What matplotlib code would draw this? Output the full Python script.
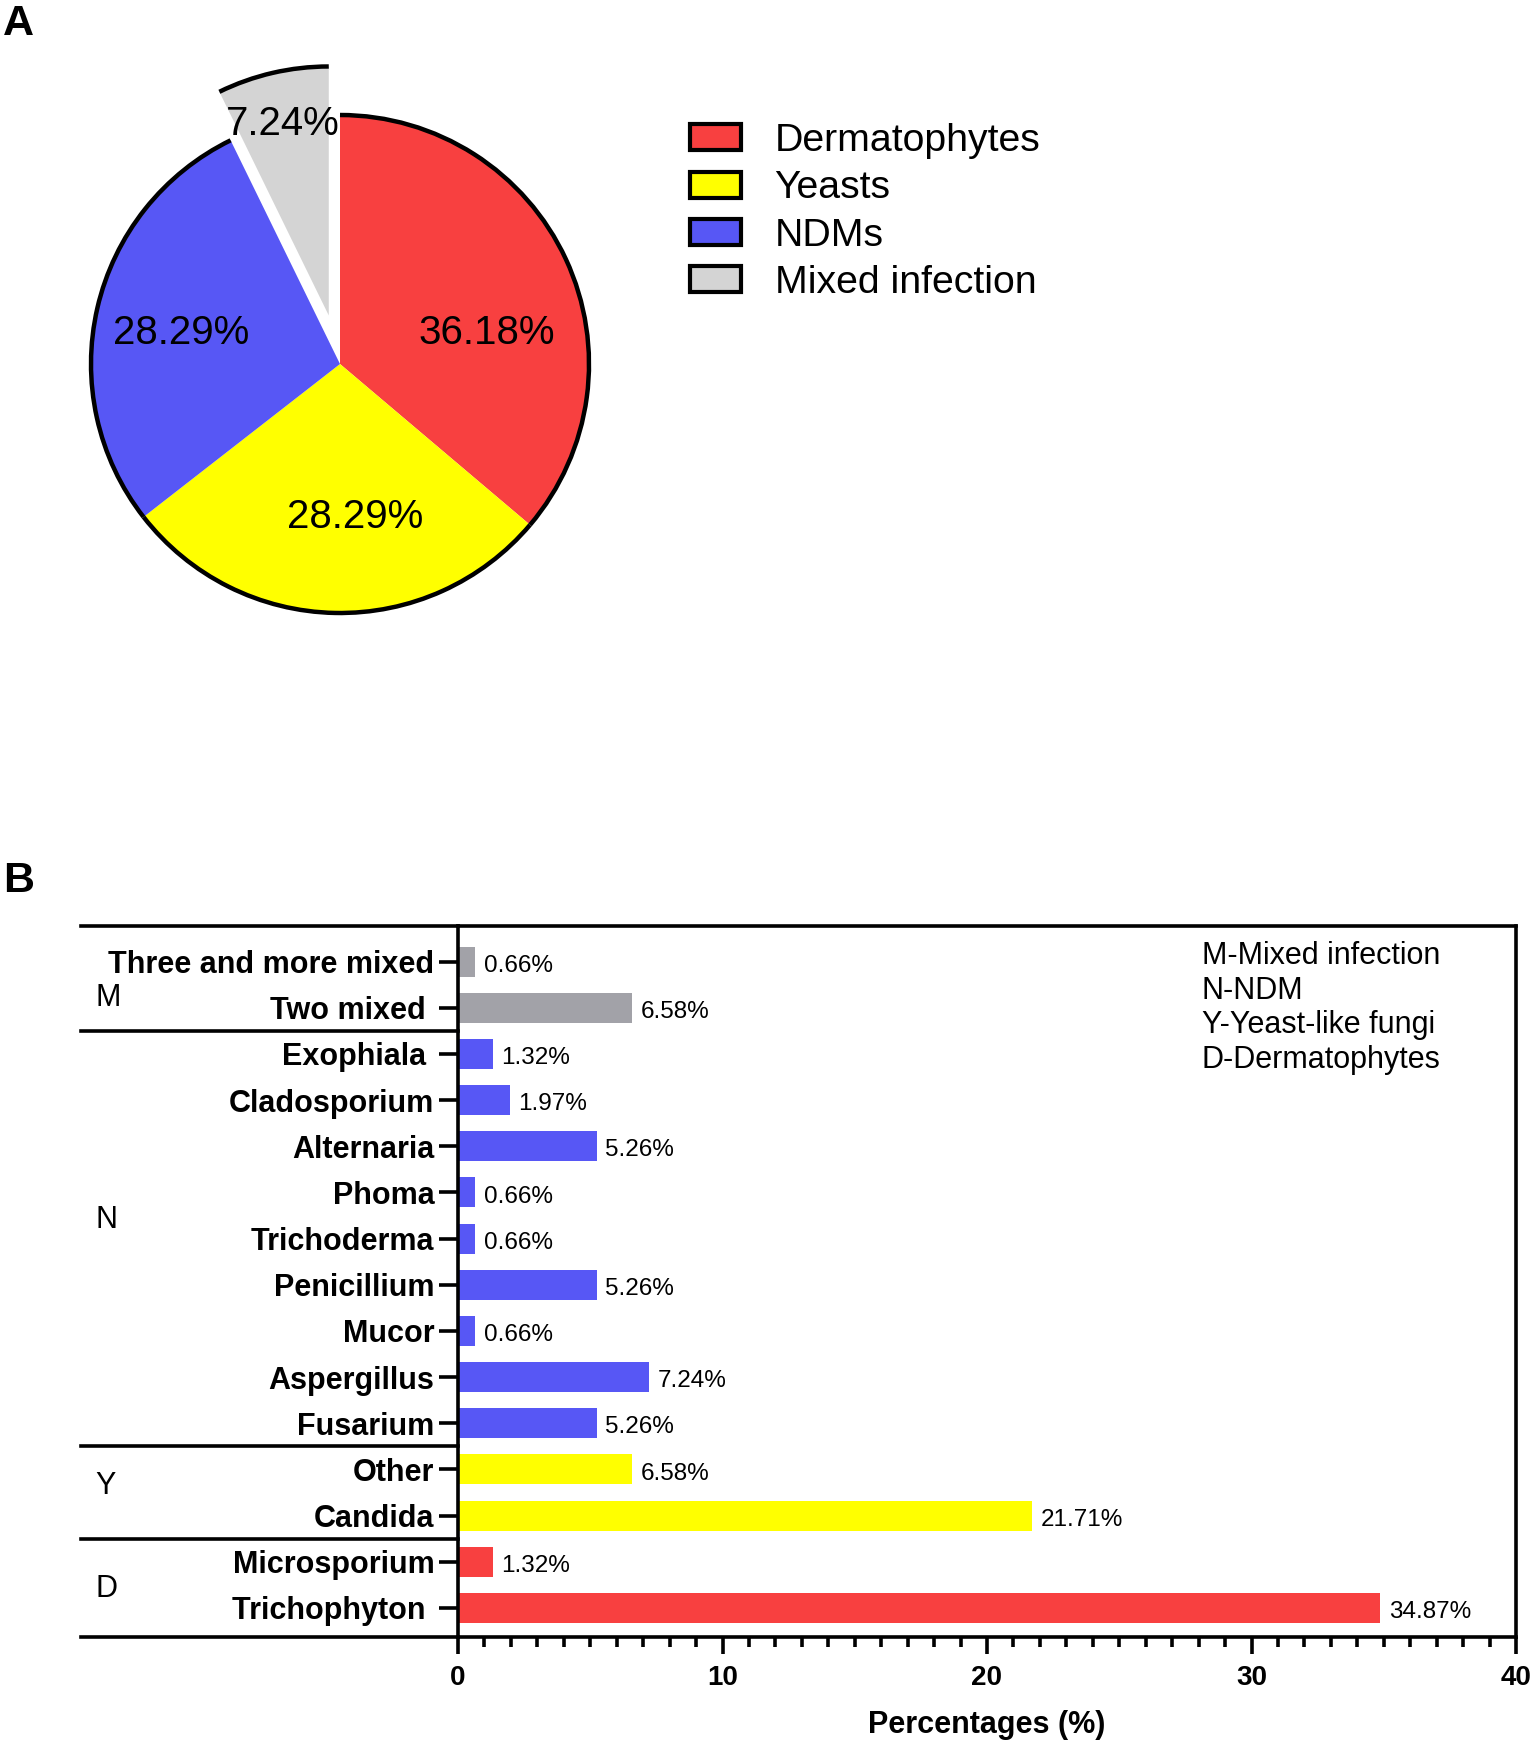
import matplotlib
matplotlib.use("Agg")
import matplotlib.pyplot as plt
import matplotlib.transforms as mtransforms
from matplotlib.patches import Arc, Patch

plt.rcParams['font.family'] = ['Liberation Sans', 'DejaVu Sans']

# ── данни: панел A ──
pie_labels = ["Dermatophytes", "Yeasts", "NDMs", "Mixed infection"]
pie_values = [36.18, 28.29, 28.29, 7.24]
pie_colors = ["#F84040", "#FFFF00", "#5757F5", "#D4D4D4"]
pie_explode = [0, 0, 0, 0.2]

# ── данни: панел B ──
genera = ["Three and more mixed", "Two mixed ", "Exophiala ", "Cladosporium",
          "Alternaria", "Phoma", "Trichoderma", "Penicillium", "Mucor",
          "Aspergillus", "Fusarium", "Other", "Candida", "Microsporium",
          "Trichophyton "]
genus_pct = [0.66, 6.58, 1.32, 1.97, 5.26, 0.66, 0.66, 5.26, 0.66,
             7.24, 5.26, 6.58, 21.71, 1.32, 34.87]
genus_group = ["M", "M", "N", "N", "N", "N", "N", "N", "N", "N", "N",
               "Y", "Y", "D", "D"]
group_colors = {"M": "#A2A2A8", "N": "#5757F5", "Y": "#FFFF00", "D": "#F84040"}
group_notes = ["M-Mixed infection", "N-NDM", "Y-Yeast-like fungi", "D-Dermatophytes"]

W, H = 1535, 1743
LW = 2.6
fig = plt.figure(figsize=(W / 100, H / 100), dpi=100)


def px_rect(left, top, right, bottom):
    return [left / W, 1 - bottom / H, (right - left) / W, (bottom - top) / H]


# ──────────────── A: pie ────────────────
L = 1.3
cx, cy, r_px = 340, 364, 249
half = r_px * L
ax1 = fig.add_axes(px_rect(cx - half, cy - half, cx + half, cy + half))
wedges, texts, autotexts = ax1.pie(
    pie_values, colors=pie_colors, explode=pie_explode, startangle=90,
    counterclock=False, autopct="%.2f%%", pctdistance=0.6,
    wedgeprops={"linewidth": 0}, textprops={"fontsize": 29},
)
for w in wedges:
    ax1.add_patch(Arc(w.center, 2 * w.r, 2 * w.r, theta1=w.theta1,
                      theta2=w.theta2, lw=3.2, color="black"))
label_pos = [(0.59, 0.125), (0.06, -0.615), (-0.64, 0.125), (-0.23, 0.965)]
for t, p in zip(autotexts, label_pos):
    t.set_position(p)
ax1.set_xlim(-L, L)
ax1.set_ylim(-L, L)
ax1.set_aspect("equal")
ax1.axis("off")

handles = [Patch(facecolor=c, edgecolor="black", linewidth=3) for c in pie_colors]
fig.legend(handles, pie_labels, loc="upper left",
           bbox_to_anchor=(690 / W, 1 - 123 / H), frameon=False,
           fontsize=28.3, handlelength=1.3, handleheight=0.64,
           handletextpad=0.85, labelspacing=0.29, borderpad=0, borderaxespad=0)

fig.text(3 / W, 1 - 4 / H, "A", fontsize=31, fontweight="bold", va="top")

# ──────────────── B: bars ────────────────
ax2 = fig.add_axes(px_rect(458, 926, 1516, 1637))
ypos = list(range(len(genera)))
bar_colors = [group_colors[g] for g in genus_group]
bars = ax2.barh(ypos, genus_pct, height=0.65, color=bar_colors)
for y, v in zip(ypos, genus_pct):
    ax2.annotate(f"{v:.2f}%", (v, y), xytext=(6, -3), textcoords="offset points",
                 ha="left", va="center", fontsize=17.5)

ax2.set_xlim(0, 40)
ax2.set_ylim(len(genera) - 1 + 0.63, -0.77)
ax2.set_yticks(ypos)
ax2.set_yticklabels(genera, fontsize=22, fontweight="bold")
ax2.set_xticks([0, 10, 20, 30, 40])
ax2.set_xticks(range(0, 41), minor=True)
for lbl in ax2.get_xticklabels():
    lbl.set_fontweight("bold")
ax2.tick_params(axis="x", which="major", length=12, width=LW, labelsize=20, pad=8)
ax2.tick_params(axis="x", which="minor", length=7, width=LW)
ax2.tick_params(axis="y", length=14, width=LW, pad=3)
ax2.set_xlabel("Percentages (%)", fontsize=22, fontweight="bold", labelpad=14)
for s in ax2.spines.values():
    s.set_linewidth(LW)

x_ext = (81 - 458) / 1058
for yl in [ax2.get_ylim()[1], ax2.get_ylim()[0], 1.5, 10.5, 12.5]:
    ax2.axhline(yl, xmin=x_ext, xmax=0, color="black", lw=LW, clip_on=False)

trans = mtransforms.blended_transform_factory(ax2.transAxes, ax2.transData)
group_y = {"M": 0.8, "N": 5.6, "Y": 11.35, "D": 13.6}
for g, yv in group_y.items():
    ax2.text((95 - 458) / 1058, yv, g, transform=trans, fontsize=22,
             ha="left", va="center")

ax2.text((1202 - 458) / 1058, 0.979, "\n".join(group_notes),
         transform=ax2.transAxes, fontsize=22, ha="left", va="top",
         linespacing=1.2)

fig.text(3 / W, 1 - 861 / H, "B", fontsize=31, fontweight="bold", va="top")

fig.savefig("out.png", dpi=100)
